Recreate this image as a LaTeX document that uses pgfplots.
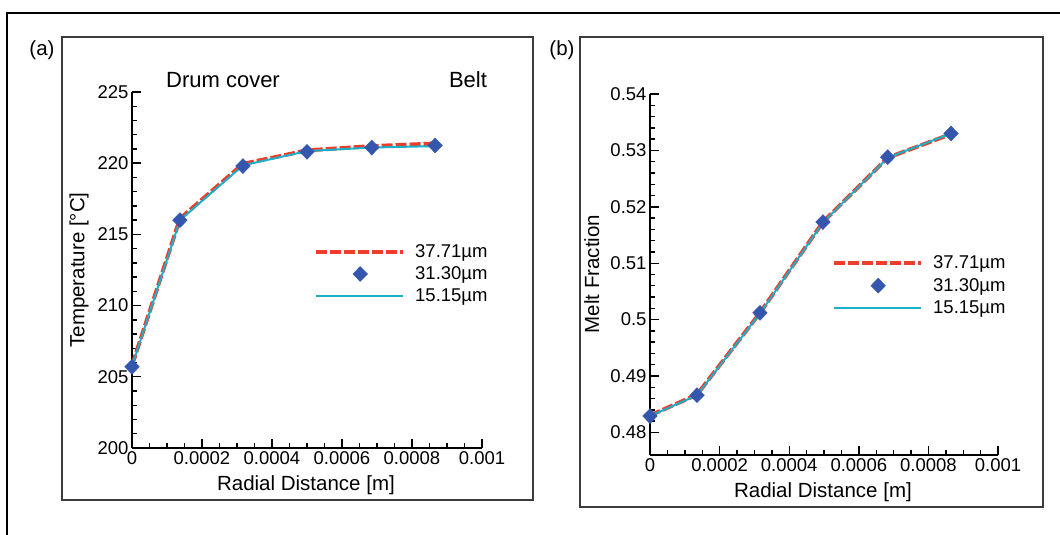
\documentclass[border=0pt]{standalone}
\usepackage{fontspec}
\setmainfont{Liberation Sans}
\usepackage{pgfplots}
\pgfplotsset{compat=1.18}
\definecolor{myred}{RGB}{236,62,42}
\definecolor{myblue}{RGB}{52,86,172}
\definecolor{mycyan}{RGB}{28,176,200}
\definecolor{frame}{RGB}{60,60,60}
\newcommand{\tickfont}{\fontsize{18.5}{20}\selectfont}
\newcommand{\labfont}{\fontsize{20.5}{22}\selectfont}
\pgfplotsset{
  lineleg/.style={legend image code/.code={\draw[##1] (0pt,0pt) -- (87pt,0pt);}},
  markleg/.style={legend image code/.code={\draw[mark repeat=2,mark phase=2,##1] plot coordinates {(0pt,0pt) (44pt,0pt) (87pt,0pt)};}},
  myaxis/.style={
    scale only axis,
    axis lines=left,
    axis line style={-, line width=1.8pt, black},
    tick align=inside,
    major tick length=9pt,
    minor tick length=5pt,
    tick style={line width=1.4pt, black},
    clip=false,
    enlargelimits=false,
    xmin=0, xmax=0.001,
    xtick={0,0.0002,0.0004,0.0006,0.0008,0.001},
    xticklabels={0,0.0002,0.0004,0.0006,0.0008,0.001},
    minor x tick num=3,
    scaled ticks=false,
    xticklabel style={font=\tickfont},
    yticklabel style={font=\tickfont},
    xlabel={Radial Distance [m]},
    legend style={draw=none, fill=none, font=\tickfont,
      anchor=north west, inner sep=0pt, row sep=2pt,
      nodes={inner xsep=1pt, inner ysep=3pt},
      /tikz/every odd column/.append style={column sep=9pt}},
    legend cell align=left,
  }
}
\begin{document}
\begin{tikzpicture}[x=1pt,y=1pt]
\useasboundingbox (0,0) rectangle (1060,535);
% frames
\draw[line width=1.2pt, black] (7,0) -- (7,522) -- (1060,522);
\draw[line width=1.5pt, frame] (62,35) rectangle (533,498);
\draw[line width=1.5pt, frame] (580,28) rectangle (1043,498);
\node[font=\labfont] at (42,485) {(a)};
\node[font=\labfont] at (562,485) {(b)};
\node[font=\fontsize{22}{24}\selectfont] at (223,455) {Drum cover};
\node[font=\fontsize{22}{24}\selectfont] at (468,455) {Belt};

% (a)
\begin{axis}[myaxis,
  at={(132pt,87pt)}, anchor=south west,
  width=350pt, height=356pt,
  ymin=200, ymax=225,
  ytick={200,205,210,215,220,225},
  yticklabels={200,205,210,215,220,225},
  minor y tick num=4,
  ylabel={Temperature [°C]},
  xlabel style={at={(axis description cs:0.497,-0.104)}, anchor=center, font=\labfont},
  ylabel style={at={(axis description cs:-0.151,0.5)}, anchor=center, font=\labfont},
  legend style={at={(rel axis cs:0.520,0.581)}},
]
\addplot[color=myred, line width=4pt, dash pattern=on 11pt off 3pt, lineleg]
  coordinates {(0,205.8) (0.000137,216.1) (0.000317,219.95) (0.0005,220.9) (0.000685,221.2) (0.000866,221.38)};
\addlegendentry{37.71µm}
\addplot[only marks, mark=diamond*, mark size=7.5pt, color=myblue,
  mark options={xscale=1.3, fill=myblue, draw=myblue}, markleg]
  coordinates {(0,205.7) (0.000137,216.0) (0.000317,219.8) (0.0005,220.8) (0.000685,221.1) (0.000866,221.25)};
\addlegendentry{31.30µm}
\addplot[color=mycyan, line width=2pt, lineleg]
  coordinates {(0,205.75) (0.000137,216.0) (0.000317,219.85) (0.0005,220.85) (0.000685,221.1) (0.000866,221.2)};
\addlegendentry{15.15µm}
\end{axis}

% (b)
\begin{axis}[myaxis,
  at={(650pt,80pt)}, anchor=south west,
  width=348pt, height=361pt,
  ymin=0.476, ymax=0.54,
  ytick={0.48,0.49,0.5,0.51,0.52,0.53,0.54},
  yticklabels={0.48,0.49,0.5,0.51,0.52,0.53,0.54},
  minor y tick num=4,
  ylabel={Melt Fraction},
  xlabel style={at={(axis description cs:0.497,-0.1025)}, anchor=center, font=\labfont},
  ylabel style={at={(axis description cs:-0.167,0.501)}, anchor=center, font=\labfont},
  legend style={at={(rel axis cs:0.523,0.560)}},
]
\addplot[color=myred, line width=4pt, dash pattern=on 11pt off 3pt, lineleg]
  coordinates {(0,0.4830) (0.000135,0.4867) (0.000316,0.5012) (0.000497,0.5173) (0.000683,0.5287) (0.000865,0.5329)};
\addlegendentry{37.71µm}
\addplot[only marks, mark=diamond*, mark size=7.5pt, color=myblue,
  mark options={xscale=1.3, fill=myblue, draw=myblue}, markleg]
  coordinates {(0,0.4829) (0.000135,0.4866) (0.000316,0.5012) (0.000497,0.5173) (0.000683,0.5288) (0.000865,0.5330)};
\addlegendentry{31.30µm}
\addplot[color=mycyan, line width=2pt, lineleg]
  coordinates {(0,0.4829) (0.000135,0.4866) (0.000316,0.5011) (0.000497,0.5172) (0.000683,0.5287) (0.000865,0.5330)};
\addlegendentry{15.15µm}
\end{axis}
\end{tikzpicture}
\end{document}
